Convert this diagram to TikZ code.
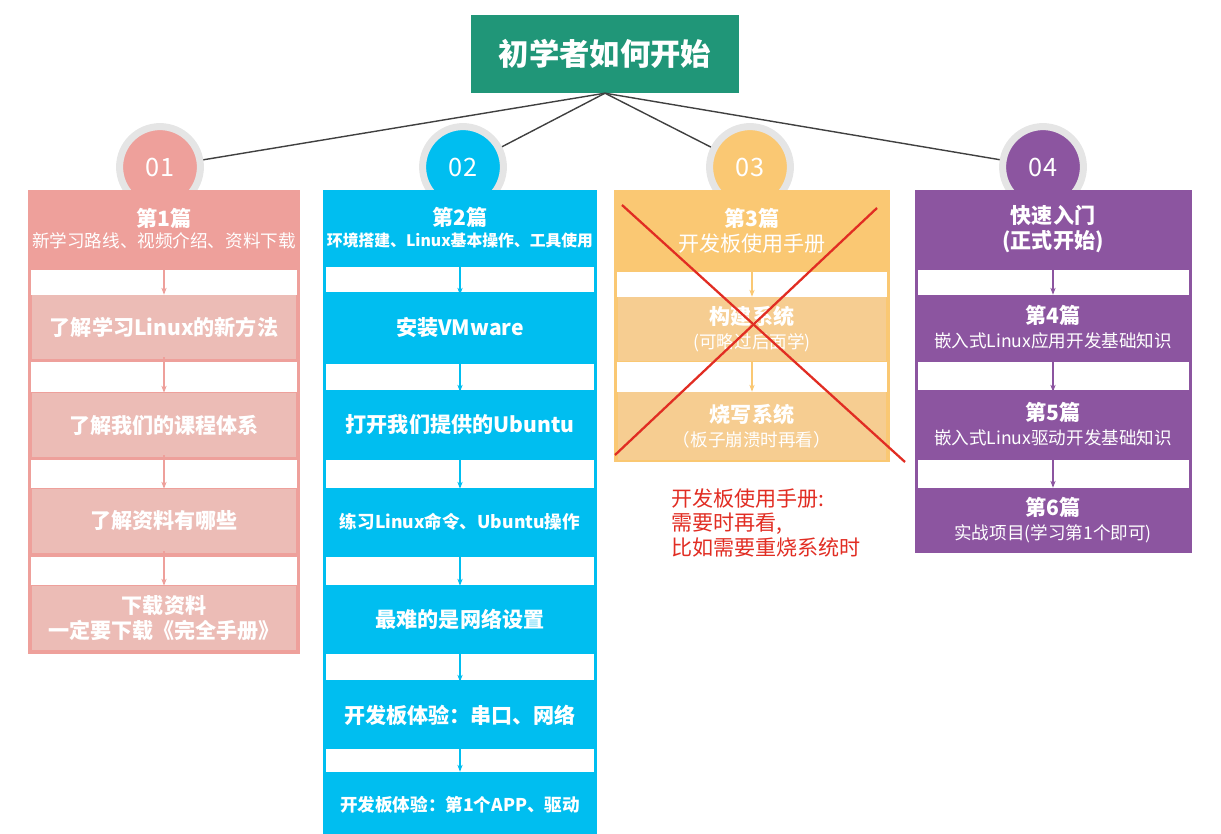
\documentclass[tikz,border=0pt]{standalone}
\usepackage{fontspec}
\setmainfont{Noto Sans CJK SC}
\usetikzlibrary{positioning}
\usetikzlibrary{arrows.meta}

\definecolor{cTop}{RGB}{32,150,120}
\definecolor{cA}{RGB}{238,160,155}
\definecolor{cAl}{RGB}{236,188,182}
\definecolor{cB}{RGB}{0,190,240}
\definecolor{cC}{RGB}{250,200,115}
\definecolor{cCl}{RGB}{246,205,145}
\definecolor{cD}{RGB}{140,85,160}
\definecolor{cX}{RGB}{225,45,35}

\begin{document}
\begin{tikzpicture}[x=0.02cm, y=-0.02cm,
    col/.style={fill=#1, draw=none},
    box/.style 2 args={fill=#1, text=white, font=\bfseries\large,
        align=center, inner sep=0pt, minimum width=#2},
    step/.style={-{Stealth[length=4pt]}, line width=0.8pt, draw=#1},
    badge/.style={circle, fill=#1, draw=gray!20, line width=4pt,
        minimum size=46pt, text=white, font=\Large},
    spoke/.style={draw=black!75, line width=0.8pt}]

\useasboundingbox (0,0) rectangle (1221,834);

% title
\node[fill=cTop, text=white, font=\bfseries\LARGE, minimum width=270*0.567pt,
      minimum height=78*0.567pt] (top) at (605,54) {初学者如何开始};

% badges
\foreach \c/\x/\t in {cA/160/01,cB/463/02,cC/750/03,cD/1043/04} {
    \draw[spoke] (top.south) -- (\x,167);
    \node[badge=\c] (badge\t) at (\x,167) {\t};
}

% column 1
\fill[cA] (28,190) rectangle (300,654);
\foreach \a/\b in {270/295,362/392,460/488,557/585}
    \fill[white] (31,\a) rectangle (297,\b);
\node[box={cA}{270*0.567pt}, minimum height=78*0.567pt] (a0) at (164,229)
    {第1篇\\[-2pt]{\normalsize\mdseries 新学习路线、视频介绍、资料下载}};
\foreach \n/\y/\t in {1/327/了解学习Linux的新方法,2/425/了解我们的课程体系,
                      3/521/了解资料有哪些,4/618/下载资料\\一定要下载《完全手册》} {
    \node[box={cAl}{266*0.567pt}, minimum height=64*0.567pt] (a\n) at (164,\y) {\t};
}
\foreach \i [evaluate=\i as \j using int(\i+1)] in {0,...,3}
    \draw[step=cA] (a\i.south) ++(0,2*0.567pt) -- (a\j.north);

% column 2
\fill[cB] (323,190) rectangle (597,834);
\foreach \a/\b in {267/292,364/390,460/488,557/585,654/680,749/775}
    \fill[white] (326,\a) rectangle (594,\b);
\node[box={cB}{274*0.567pt}, minimum height=76*0.567pt] (b0) at (460,228)
    {第2篇\\[-2pt]{\small 环境搭建、Linux基本操作、工具使用}};
\foreach \n/\y/\f/\t in {1/328/\large/安装VMware,2/425/\large/打开我们提供的Ubuntu,
                      3/522/\normalsize/练习Linux命令、Ubuntu操作,4/619/\large/最难的是网络设置,
                      5/715/\large/开发板体验：串口、网络,6/805/\normalsize/开发板体验：第1个APP、驱动} {
    \node[box={cB}{274*0.567pt}, minimum height=66*0.567pt, font=\bfseries\f] (b\n) at (460,\y) {\t};
}
\foreach \i [evaluate=\i as \j using int(\i+1)] in {0,...,5}
    \draw[step=cB] (b\i.south) -- (b\j.north);

% column 3
\fill[cC] (614,190) rectangle (890,462);
\foreach \a/\b in {272/297,362/392}
    \fill[white] (617,\a) rectangle (887,\b);
\node[box={cC}{276*0.567pt}, minimum height=80*0.567pt, font=\large] (c0) at (752,231)
    {\textbf{第3篇}\\开发板使用手册};
\node[box={cCl}{270*0.567pt}, minimum height=64*0.567pt, font=\large] (c1) at (752,329)
    {\textbf{构建系统}\\{\normalsize (可略过后面学)}};
\node[box={cCl}{270*0.567pt}, minimum height=68*0.567pt, font=\large] (c2) at (752,426)
    {\textbf{烧写系统}\\{\normalsize （板子崩溃时再看）}};
\draw[step=cC] (c0.south) -- (c1.north);
\draw[step=cC] (c1.south) -- (c2.north);
\draw[cX, line width=1.3pt] (622,205) -- (905,462);
\draw[cX, line width=1.3pt] (615,455) -- (877,208);
\node[text=cX, align=left, anchor=north west, font=\large] (note) at (665,482)
    {开发板使用手册:\\需要时再看,\\比如需要重烧系统时};

% column 4
\fill[cD] (915,190) rectangle (1192,553);
\foreach \a/\b in {270/295,362/390,460/488}
    \fill[white] (918,\a) rectangle (1189,\b);
\node[box={cD}{277*0.567pt}, minimum height=78*0.567pt] (d0) at (1053,229)
    {快速入门\\(正式开始)};
\foreach \n/\y/\a/\t in {1/327/4/嵌入式Linux应用开发基础知识,2/424/5/嵌入式Linux驱动开发基础知识,
                         3/520/6/实战项目(学习第1个即可)} {
    \node[box={cD}{277*0.567pt}, minimum height=64*0.567pt] (d\n) at (1053,\y)
        {第\a 篇\\{\mdseries\normalsize \t}};
}
\foreach \i [evaluate=\i as \j using int(\i+1)] in {0,...,2}
    \draw[step=cD] (d\i.south) -- (d\j.north);

\end{tikzpicture}
\end{document}
